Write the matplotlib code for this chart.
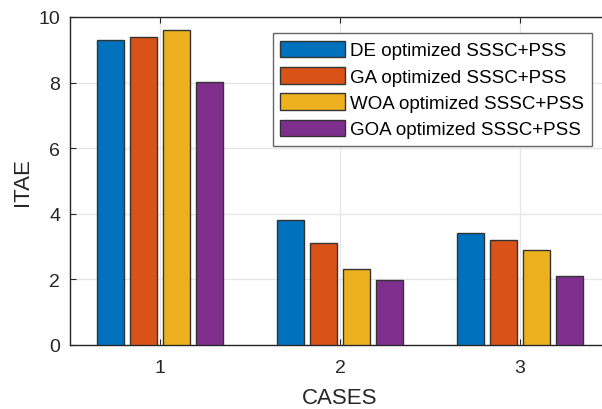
import numpy as np
import matplotlib.pyplot as plt

cases = [1, 2, 3]
series_names = ['DE optimized SSSC+PSS', 'GA optimized SSSC+PSS',
                'WOA optimized SSSC+PSS', 'GOA optimized SSSC+PSS']
de_itae = [9.3, 3.8, 3.4]
ga_itae = [9.4, 3.1, 3.2]
woa_itae = [9.6, 2.32, 2.9]
goa_itae = [8.02, 1.98, 2.1]

colors = ['#0072BD', '#D95319', '#EDB120', '#7E2F8E']
txt = '#262626'

plt.rcParams['font.family'] = ['Liberation Sans', 'DejaVu Sans']

fig = plt.figure(figsize=(6.02, 4.10), dpi=100)
ax = fig.add_axes([70 / 602, 64 / 410, 540 / 602, 328 / 410])

x = np.array(cases, dtype=float)
step = 0.182
width = 0.15
for i, (vals, name) in enumerate(zip([de_itae, ga_itae, woa_itae, goa_itae], series_names)):
    ax.bar(x + (i - 1.5) * step, vals, width, color=colors[i], edgecolor='#333333',
           linewidth=1.0, label=name, zorder=3)

ax.set_xlim(0.5, 3.5)
ax.set_ylim(0, 10)
ax.set_xticks(cases)
ax.set_yticks([0, 2, 4, 6, 8, 10])
ax.grid(True, color='#e6e6e6', linewidth=1.0, zorder=0)
ax.tick_params(direction='in', top=True, right=True, labelsize=14, colors=txt,
               length=4)
ax.tick_params(axis='x', pad=10)
ax.tick_params(axis='y', pad=7)
for s in ax.spines.values():
    s.set_color(txt)
    s.set_linewidth(1.0)

ax.set_xlabel('CASES', fontsize=16, color=txt, labelpad=8)
ax.set_ylabel('ITAE', fontsize=16, color=txt, labelpad=4)

leg = ax.legend(loc='upper right', bbox_to_anchor=(0.9665, 0.951), borderaxespad=0,
                fontsize=13.5, handlelength=3.45, handleheight=1.0, labelspacing=0.4,
                handletextpad=0.3, borderpad=0.4, fancybox=False, framealpha=1)
leg.get_frame().set_edgecolor('#666666')
leg.get_frame().set_linewidth(1.0)

fig.savefig('out.png', dpi=100)
